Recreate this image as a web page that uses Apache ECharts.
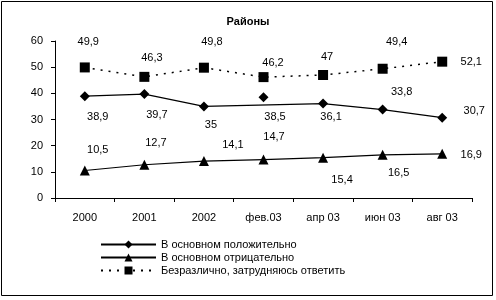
<!DOCTYPE html>
<html><head><meta charset="utf-8">
<script src="https://cdn.jsdelivr.net/npm/echarts@6/dist/echarts.min.js"></script>
<style>html,body{margin:0;padding:0;background:#fff}#c{width:496px;height:300px}</style>
</head><body><div id="c"></div>
<script>
const categories = ['2000', '2001', '2002', 'фев.03', 'апр 03', 'июн 03', 'авг 03'];
const positive = [38.9, 39.7, 35, 38.5, 36.1, 33.8, 30.7];
const negative = [10.5, 12.7, 14.1, 14.7, 15.4, 16.5, 16.9];
const indifferent = [49.9, 46.3, 49.8, 46.2, 47, 49.4, 52.1];
const seriesNames = ['В основном положительно', 'В основном отрицательно', 'Безразлично, затрудняюсь ответить'];
const yTicks = [0, 10, 20, 30, 40, 50, 60];
const title = 'Районы';
const detachedIndex = 3; // фев.03 point of first series is not joined to its line in the original

// label placement (style only)
const offPos = [[13,21],[12.6,21],[7,18.6],[11.5,19.7],[8,13.5],[19,-17.6],[32,-7]];
const offNeg = [[13,-20.5],[11.6,-21.8],[29,-16],[10.5,-22.5],[19,22.3],[16,18],[29,1]];
const offInd = [[3.5,-25.7],[7.6,-18.6],[8,-26],[9.5,-14.4],[4,-18],[14,-26.7],[29,0]];

const FONT = '"Liberation Sans", Arial, sans-serif';
const fmt = v => String(v).replace('.', ',');
function withLabels(vals, offs) {
  return vals.map((v, i) => ({
    value: v,
    label: { show: true, position: 'inside', offset: offs[i], formatter: () => fmt(v),
      color: '#000', fontFamily: FONT, fontSize: 11 }
  }));
}
const posData = withLabels(positive, offPos);
const posLine = posData.map((d, i) => i === detachedIndex ? null : d);
const posPoint = posData.map((d, i) => i === detachedIndex ? d : null);

const chart = echarts.init(document.getElementById('c'), null, { renderer: 'canvas' });
chart.setOption({
  animation: false,
  backgroundColor: '#fff',
  title: { text: title, left: 'center', top: 11, textStyle: { fontFamily: FONT, fontSize: 11, fontWeight: 'bold', color: '#000' } },
  grid: { left: 55, right: 24, top: 41, bottom: 102 },
  xAxis: {
    type: 'category', data: categories, boundaryGap: true,
    axisLine: { lineStyle: { color: '#000', width: 1 } },
    axisTick: { show: true, length: 4, lineStyle: { color: '#000' } },
    axisLabel: { color: '#000', fontFamily: FONT, fontSize: 11, margin: 14 }
  },
  yAxis: {
    type: 'value', min: yTicks[0], max: yTicks[yTicks.length - 1], interval: 10,
    axisLine: { show: true, lineStyle: { color: '#000', width: 1 } },
    axisTick: { show: true, length: 4, lineStyle: { color: '#000' } },
    axisLabel: { color: '#000', fontFamily: FONT, fontSize: 11, margin: 12 },
    splitLine: { show: false }
  },
  legend: {
    orient: 'vertical', left: 100, top: 238, padding: 0, itemWidth: 55, itemHeight: 10, itemGap: 0,
    textStyle: { fontFamily: FONT, fontSize: 11, color: '#000', lineHeight: 13 },
    data: seriesNames
  },
  series: [
    { name: seriesNames[0], type: 'line', data: posLine, connectNulls: true,
      symbol: 'diamond', symbolSize: 10, color: '#000',
      lineStyle: { color: '#000', width: 1.2 }, itemStyle: { color: '#000' } },
    { name: seriesNames[0], type: 'line', data: posPoint, showSymbol: true,
      symbol: 'diamond', symbolSize: 10, color: '#000',
      lineStyle: { width: 0 }, itemStyle: { color: '#000' } },
    { name: seriesNames[1], type: 'line', data: withLabels(negative, offNeg),
      symbol: 'triangle', symbolSize: 10, color: '#000',
      lineStyle: { color: '#000', width: 1.2 }, itemStyle: { color: '#000' } },
    { name: seriesNames[2], type: 'line', data: withLabels(indifferent, offInd),
      symbol: 'rect', symbolSize: 10, color: '#000',
      lineStyle: { color: '#000', width: 1.5, type: [2, 6] }, itemStyle: { color: '#000' } }
  ],
  graphic: [{ type: 'rect', shape: { x: 1.5, y: 1.5, width: 491, height: 294 },
    style: { fill: 'none', stroke: '#000', lineWidth: 1 }, silent: true }]
});
</script></body></html>
